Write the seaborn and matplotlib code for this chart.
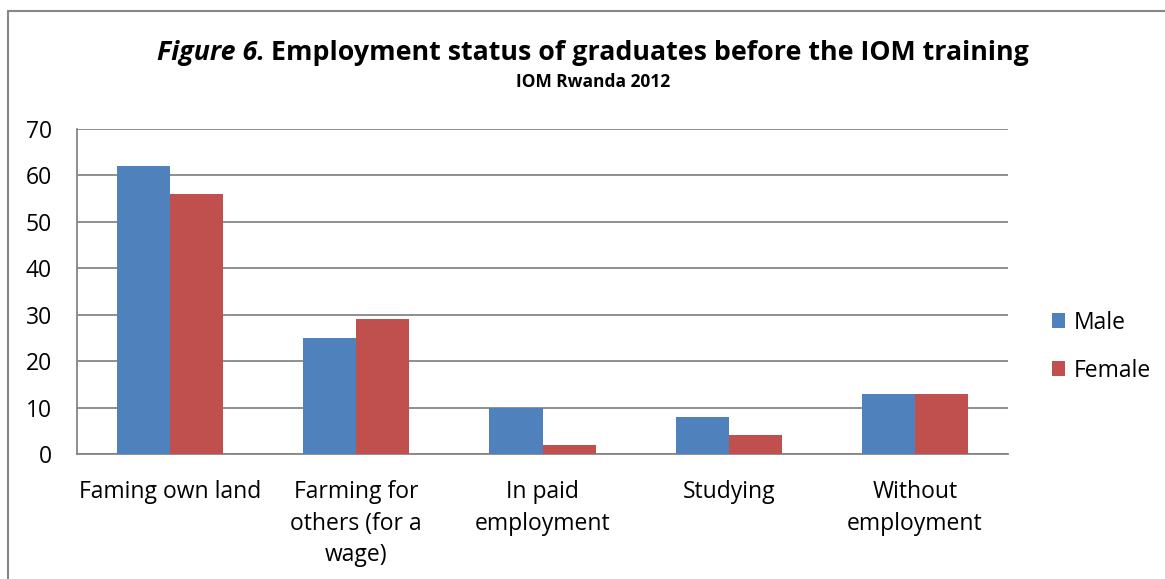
import matplotlib
matplotlib.use("Agg")
import matplotlib.pyplot as plt
from matplotlib.lines import Line2D
import seaborn as sns
import pandas as pd

categories = ["Faming own land", "Farming for\nothers (for a\nwage)", "In paid\nemployment",
              "Studying", "Without\nemployment"]
male = [62, 25, 10, 8, 13]
female = [56, 29, 2, 4, 13]
series_names = ["Male", "Female"]
y_ticks = [0, 10, 20, 30, 40, 50, 60, 70]

df = pd.DataFrame({
    "category": categories * 2,
    "value": male + female,
    "sex": [series_names[0]] * len(male) + [series_names[1]] * len(female),
})

sns.set_theme(style="white")
plt.rcParams["font.family"] = ["Open Sans", "DejaVu Sans"]
plt.rcParams["text.color"] = "black"

W, H = 1165, 579
fig = plt.figure(figsize=(W / 100, H / 100), dpi=100)
ax = fig.add_axes([77 / W, (H - 454) / H, 931 / W, 325 / H])

palette = {"Male": "#4F81BD", "Female": "#C0504D"}
sns.barplot(data=df, x="category", y="value", hue="sex", palette=palette,
            width=0.57, gap=0, saturation=1, linewidth=0, ax=ax, legend=True, zorder=3)

grid_c = "#868686"
ax.set_ylim(0, 70)
ax.set_yticks(y_ticks)
ax.yaxis.grid(True, color=grid_c, linewidth=1.3, zorder=0)
ax.set_axisbelow(True)
for s in ["top", "right"]:
    ax.spines[s].set_visible(False)
for s in ["left", "bottom"]:
    ax.spines[s].set_color(grid_c)
    ax.spines[s].set_linewidth(1.3)
ax.set_xlabel("")
ax.set_ylabel("")
ax.tick_params(axis="y", length=0, pad=18, labelsize=16.5, colors="black")
ax.tick_params(axis="x", length=0, pad=19, labelsize=16.5, colors="black")
for lab in ax.get_xticklabels():
    lab.set_linespacing(1.4)
    lab.set_horizontalalignment("center")
    lab.set_verticalalignment("top")

leg = ax.legend(loc="upper left", bbox_to_anchor=(1031 / W, (H - 290) / H),
                bbox_transform=fig.transFigure, frameon=False, fontsize=16.5,
                handlelength=0.6, handleheight=0.6, handletextpad=0.35, labelspacing=1.05)
for t in leg.get_texts():
    t.set_color("black")

# Title: italic figure number followed by bold caption, centred as one line
title_size = 19.3
base_y = 1 - 60 / H
renderer = fig.canvas.get_renderer()
part1 = fig.text(0, base_y, "Figure 6.", fontsize=title_size, fontweight="bold",
                 fontstyle="italic", ha="left", va="baseline")
part2 = fig.text(0, base_y, " Employment status of graduates before the IOM training",
                 fontsize=title_size, fontweight="bold", ha="left", va="baseline")
w1 = part1.get_window_extent(renderer).width
w2 = part2.get_window_extent(renderer).width
x0 = 593 - (w1 + w2) / 2
part1.set_x(x0 / W)
part2.set_x((x0 + w1) / W)

fig.text(593 / W, 1 - 87 / H, "IOM Rwanda 2012", fontsize=12.5, fontweight="bold",
         ha="center", va="baseline")

# Outer frame
fig.add_artist(Line2D([8 / W, 8 / W], [0, 1 - 11 / H], transform=fig.transFigure,
                      color=grid_c, linewidth=1.5))
fig.add_artist(Line2D([8 / W, 1], [1 - 11 / H, 1 - 11 / H], transform=fig.transFigure,
                      color=grid_c, linewidth=1.5))

fig.savefig("out.png", dpi=100)
